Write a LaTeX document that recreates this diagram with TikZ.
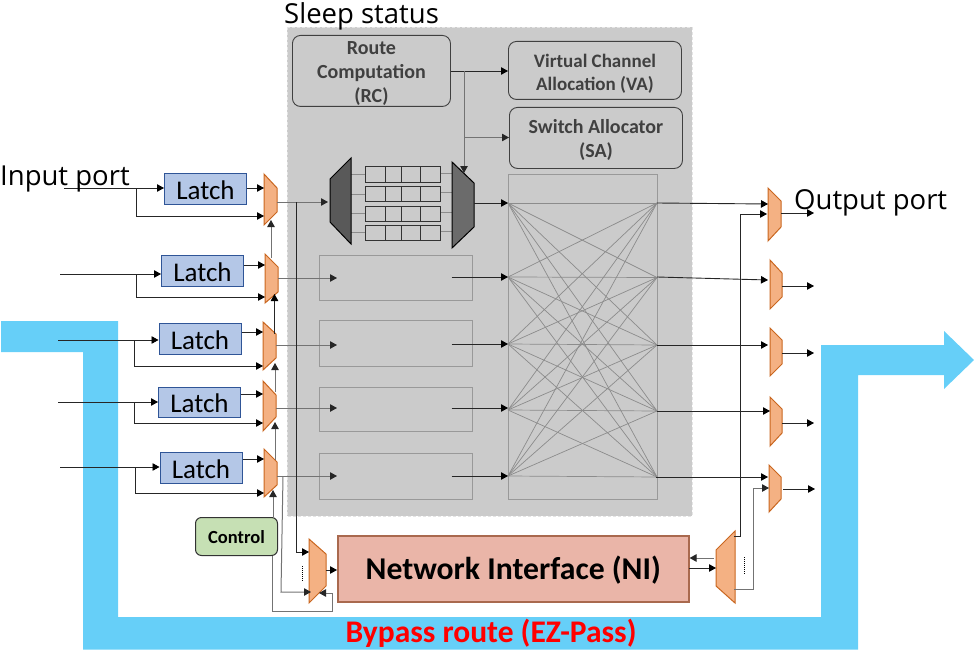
\documentclass[tikz,border=0pt]{standalone}
\usepackage{fontspec}
\setmainfont{Carlito}
\newfontfamily\labelfont{Open Sans}
\usetikzlibrary{arrows.meta}
\definecolor{bypass}{HTML}{66CFF8}
\definecolor{coregray}{HTML}{CBCBCB}
\definecolor{muxfill}{HTML}{F4B183}
\definecolor{muxedge}{HTML}{C9661F}
\definecolor{latchfill}{HTML}{B4C7E7}
\definecolor{latchedge}{HTML}{2F5597}
\definecolor{nifill}{HTML}{EAB5A8}
\definecolor{niedge}{HTML}{A9694E}
\definecolor{ctrlfill}{HTML}{C6E0B4}
\definecolor{darktext}{HTML}{404040}
\tikzset{
  x=1pt,y=-1pt,
  conn/.style={draw=black!85,line width=0.9pt},
  arr/.style={conn,-{Triangle[length=7pt,width=7.5pt,color=black]}},
  garr/.style={draw=black!55,line width=1pt,-{Triangle[length=7pt,width=7.5pt,color=black!85]}},
  latchbox/.style={draw=latchedge,line width=1pt,fill=latchfill,inner sep=0pt,text height=20.5pt,font=\fontsize{27}{28}\selectfont},
  allocbox/.style={draw=black!75,line width=0.9pt,rounded corners=8pt,inner sep=0pt,align=center,text=darktext,font=\bfseries\fontsize{20}{24}\selectfont},
  muxshape/.style={draw=muxedge,line width=1pt,fill=muxfill},
  darkmux/.style={draw=black,line width=1pt},
  portbox/.style={draw=black!40,line width=1pt},
  xline/.style={draw=black!45,line width=0.7pt},
  bigtext/.style={font=\labelfont\fontsize{27.5}{29}\selectfont,inner sep=0pt}
}
% box by corners: name, x1,y1,x2,y2, style, text
\newcommand{\boxat}[7]{\node[#6,minimum width=\dimexpr#4pt-#2pt\relax,minimum height=\dimexpr#5pt-#3pt\relax,anchor=north west] (#1) at (#2,#3) {#7};}
% mux, tall side left: name, xl, xr, left top, left bottom, right top, right bottom
\newcommand{\muxat}[8][muxshape]{%
  \path[#1] (#3,#5) -- (#4,#7) -- (#4,#8) -- (#3,#6) -- cycle;%
  \node[inner sep=0pt,minimum width=\dimexpr#4pt-#3pt\relax,minimum height=\dimexpr#6pt-#5pt\relax,anchor=north west] (#2) at (#3,#5) {};}
% mux, tall side right: name, xl, xr, right top, right bottom, left top, left bottom
\newcommand{\muxrev}[8][muxshape]{%
  \path[#1] (#4,#5) -- (#3,#7) -- (#3,#8) -- (#4,#6) -- cycle;%
  \node[inner sep=0pt,minimum width=\dimexpr#4pt-#3pt\relax,minimum height=\dimexpr#6pt-#5pt\relax,anchor=north west] (#2) at (#3,#5) {};}
\begin{document}
\begin{tikzpicture}
\useasboundingbox (0,0) rectangle (974,650);
% bypass route
\fill[bypass] (1,321) -- (118,321) -- (118,617) -- (821,617) -- (821,345) -- (944,345) -- (944,331) -- (974,360) -- (944,389) -- (944,375) -- (858,375) -- (858,649.5) -- (83,649.5) -- (83,352) -- (1,352) -- cycle;
% core
\path[fill=coregray,draw=white!90!black,densely dashed,line width=0.6pt] (287,27) rectangle (692,516);
% allocators
\boxat{rc}{292}{35}{450}{106}{allocbox}{\rule{0pt}{19pt}Route\\Computation\\(RC)}
\boxat{va}{508}{41}{681}{99}{allocbox,font=\bfseries\fontsize{19}{23}\selectfont}{\rule{0pt}{19pt}Virtual Channel\\Allocation (VA)}
\boxat{sa}{509}{107}{682}{168}{allocbox}{\rule{0pt}{19pt}Switch Allocator\\(SA)}
% crossbar
\boxat{xbar}{508}{174}{657}{499}{portbox}{}
\foreach \ya in {203,277,344,410,476}{
  \foreach \yb in {203,277.5,345,411,477}{
    \draw[xline] (508,\ya) -- (657,\yb);
  }
}
% input buffers
\foreach \ya in {174.5,194,213.5,232.5}{
  \draw[draw=black!45,line width=0.8pt] (351,\ya) -- (365,\ya);
  \draw[draw=black!45,line width=0.8pt] (440,\ya-1.5) -- (452,\ya-1.5);
}
\foreach \nm/\ya/\yb in {ba/166/182,bb/186/201,bc/206/221,bd/225/240}{
  \boxat{\nm}{365}{\ya}{440}{\yb}{draw=black!80,line width=0.9pt}{}
  \foreach \xd in {385,401,420}{\draw[draw=black!80,line width=0.8pt] (\xd,\ya) -- (\xd,\yb);}
}
\muxrev[darkmux,fill=black!65]{bufin}{330}{351}{158}{244}{179}{222}
\muxat[darkmux,fill=black!58]{bufout}{452}{474}{162}{248}{183}{227}
% other ports
\boxat{pb}{318.5}{255}{471.5}{300}{portbox}{}
\boxat{pc}{318.5}{320}{471.5}{366}{portbox}{}
\boxat{pd}{318.5}{387}{471.5}{431}{portbox}{}
\boxat{pe}{318.5}{453}{471.5}{499}{portbox}{}
% latches
\boxat{la}{164}{173}{246}{204}{latchbox}{Latch}
\boxat{lb}{161}{255}{243}{286}{latchbox}{Latch}
\boxat{lc}{158.5}{323}{240.5}{354}{latchbox}{Latch}
\boxat{ld}{158}{387}{240}{417}{latchbox}{Latch}
\boxat{le}{159.5}{452}{241.5}{483}{latchbox}{Latch}
% input muxes
\muxat{ma}{264}{277}{174}{225}{188}{212}
\muxat{mb}{265}{278}{254}{303}{267}{292}
\muxat{mc}{263}{276}{322}{370}{334}{358}
\muxat{md}{263}{276}{381}{431}{395}{417}
\muxat{me}{264}{277}{449}{497}{462}{485}
% output muxes
\muxat{oa}{768}{781}{188}{241}{201}{227}
\muxat{ob}{770}{782}{260}{309}{273}{297}
\muxat{oc}{770}{782}{328}{376}{340}{364}
\muxat{od}{770}{782}{397}{446}{409}{433}
\muxat{oe}{769}{781}{465}{512}{477}{499}
% NI and its muxes
\boxat{ni}{337}{535}{688}{601}{draw=niedge,line width=1.6pt,fill=nifill,text height=26pt,font=\bfseries\fontsize{31.7}{33}\selectfont}{Network Interface (NI)}
\muxat{nl}{309}{326}{539}{603}{554}{586}
\muxrev{nr}{716}{735}{531}{603}{550}{586}
% control
\boxat{ctl}{195}{517}{277}{555}{draw=black!80,line width=1pt,rounded corners=6pt,fill=ctrlfill,text height=15pt,font=\bfseries\fontsize{18.5}{20}\selectfont}{Control}
% dotted
\draw[black,line width=1pt,densely dotted] (302,566) -- (302,582);
\draw[black,line width=1pt,densely dotted] (744,557) -- (744,574);
% input connectors
\foreach \l/\xs/\yi/\xb/\ybr/\ytop/\m/\xm in {la/64/188/136/216/188/ma/264,lb/60/274/136.5/297/265/mb/265,lc/58/340/134.5/366/332/mc/263,ld/58/402/134.5/423/394/md/263,le/60/467/135.5/493/459/me/264}{
  \coordinate (s\l) at (\xs,\yi);
  \coordinate (b\l) at (\xb,\yi);
  \coordinate (d\l) at (\xm,\ybr);
  \coordinate (t\l) at (\xm,\ytop);
  \draw[arr] (s\l) -- (\l.west |- s\l);
  \draw[arr] (b\l) |- (d\l);
  \draw[arr] (\l.east |- t\l) -- (t\l);
}
% mux chain
\coordinate (ua) at (271,220); \coordinate (ub) at (271,258);
\coordinate (uc) at (274.5,294); \coordinate (ud) at (274.5,334);
\coordinate (ue) at (275,363); \coordinate (uf) at (275,392);
\coordinate (ug) at (275,422); \coordinate (uh) at (275,460);
\coordinate (ui) at (273,490);
\draw[garr] (ub) -- (ua);
\draw[arr] (ud) -- (uc);
\draw[garr] (uf) -- (ue);
\draw[garr] (uh) -- (ug);
\draw[garr] (ctl.north -| ui) -- (ui);
% mux outputs
\coordinate (oma) at (277,202); \coordinate (tma) at (328,202);
\coordinate (omb) at (278,278); \coordinate (tmb) at (337,278);
\coordinate (omc) at (276,345); \coordinate (tmc) at (337,345);
\coordinate (omd) at (276,408); \coordinate (tmd) at (337,408);
\coordinate (ome) at (277,476); \coordinate (tme) at (337,476);
\foreach \n in {a,b,c,d,e}{\draw[garr] (om\n) -- (tm\n);}
% branches to NI mux
\coordinate (ja) at (296,202); \coordinate (ka) at (309,552);
\draw[arr] (ja) |- (ka);
\coordinate (jb) at (283,476); \coordinate (jc) at (281,592); \coordinate (kb) at (311,592);
\draw[garr] (jb) -- (jc) -- (kb);
% control to NI mux
\coordinate (cb) at (272,611); \coordinate (cc) at (332,611); \coordinate (cd) at (332,593); \coordinate (ce) at (319,593);
\draw[garr] (ctl.south -| cb) -- (cb) -- (cc) -- (cd) -- (ce);
% NI connections
\coordinate (nla) at (326,570); \draw[arr] (nla) -- (ni.west |- nla);
\coordinate (nra) at (714,558); \draw[garr] (nra) -- (ni.east |- nra);
\coordinate (nrb) at (689,568); \coordinate (nrc) at (716,568); \draw[arr] (nrb) -- (nrc);
% NI mux to output muxes
\coordinate (va1) at (734,536); \coordinate (va2) at (740,536); \coordinate (va3) at (740,214); \coordinate (va4) at (767,214);
\draw[arr] (va1) -- (va2) -- (va3) -- (va4);
\coordinate (vb1) at (734,589); \coordinate (vb2) at (753,589); \coordinate (vb3) at (753,488); \coordinate (vb4) at (769,488);
\draw[garr] (vb1) -- (vb2) -- (vb3) -- (vb4);
% core connectors
\coordinate (r1) at (464,71); \coordinate (r2) at (464,137.5); \coordinate (r3) at (464,173);
\draw[arr] (rc.east |- r1) -- (va.west |- r1);
\draw[garr] (r1) -- (r3);
\draw[garr] (r2) -- (sa.west |- r2);
\coordinate (b1) at (474,203); \draw[arr] (b1) -- (xbar.west |- b1);
\foreach \p/\ya in {pb/277,pc/344,pd/408,pe/476}{
  \coordinate (e\p) at (451.5,\ya);
  \coordinate (c\p) at (508,\ya);
  \draw[arr] (e\p) -- (c\p);
}
% crossbar to output muxes
\coordinate (xa) at (657,203); \coordinate (ya) at (768,204);
\coordinate (xb) at (657,277); \coordinate (yb) at (768,280);
\coordinate (xc) at (657,345); \coordinate (yc) at (768,345);
\coordinate (xd) at (657,411); \coordinate (yd) at (770,411);
\coordinate (xe) at (656,477); \coordinate (ye) at (768,477);
\foreach \n in {a,b,c,d,e}{\draw[arr] (x\n) -- (y\n);}
% outputs
\coordinate (pa) at (781,213); \coordinate (qa) at (814,213);
\coordinate (pb2) at (782,286); \coordinate (qb) at (814,286);
\coordinate (pc2) at (782,353); \coordinate (qc) at (814,353);
\coordinate (pd2) at (782,423); \coordinate (qd) at (814,423);
\coordinate (pe2) at (783,489); \coordinate (qe) at (815,489);
\draw[arr] (pa) -- (qa); \draw[arr] (pb2) -- (qb); \draw[arr] (pc2) -- (qc); \draw[arr] (pd2) -- (qd); \draw[arr] (pe2) -- (qe);
% text
\node[bigtext,anchor=base west] (t1) at (284,24) {Sleep status};
\node[bigtext,anchor=base west] (t2) at (0,185) {Input port};
\node[bigtext,anchor=base west] (t3) at (794,209) {Output port};
\node[inner sep=0pt,anchor=center,text=red,font=\bfseries\fontsize{31.5}{33}\selectfont] (t4) at (491,633) {Bypass route (EZ-Pass)};
\end{tikzpicture}
\end{document}
